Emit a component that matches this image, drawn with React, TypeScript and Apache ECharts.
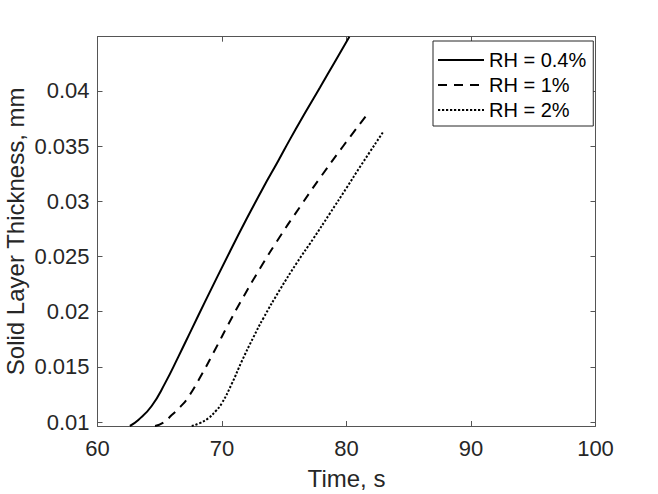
import React, { useEffect, useRef } from "react";
import * as echarts from "echarts";

const seriesNames = ["RH = 0.4%", "RH = 1%", "RH = 2%"];

const rh04: [number, number][] = [
  [62.6, 0.00964], [63.28, 0.01018], [64.35, 0.01145], [65.42, 0.0135],
  [66.49, 0.0159], [67.57, 0.01842], [68.63, 0.02088], [70.64, 0.02545],
  [72.0, 0.02845], [73.32, 0.03125], [74.5, 0.03362], [75.46, 0.0356],
  [76.7, 0.03805], [77.87, 0.0403], [79.0, 0.0425], [80.23, 0.0449],
];

const rh1: [number, number][] = [
  [64.62, 0.00964], [65.3, 0.00995], [65.96, 0.01063], [66.63, 0.01135],
  [67.29, 0.01225], [68.37, 0.0143], [69.44, 0.01655], [70.51, 0.01885],
  [71.45, 0.0208], [73.05, 0.0239], [74.66, 0.0268], [76.27, 0.0295],
  [77.74, 0.0319], [79.74, 0.035], [81.62, 0.0378],
];

const rh2: [number, number][] = [
  [67.57, 0.00964], [68.2, 0.0099], [68.9, 0.01034], [69.5, 0.011],
  [69.98, 0.01169], [70.78, 0.01345], [71.58, 0.01548], [72.51, 0.01765],
  [73.32, 0.0194], [74.66, 0.022], [76.0, 0.0244], [77.33, 0.0266],
  [78.67, 0.0289], [80.0, 0.0312], [81.08, 0.0331], [82.96, 0.0363],
];

const yTickValues = [0.01, 0.015, 0.02, 0.025, 0.03, 0.035, 0.04];
const xMin = 60;
const xMax = 100;
const xInterval = 10;
const yMin = 0.00964;
const yMax = 0.0449;

const FONT = "'Liberation Sans', Arial, Helvetica, sans-serif";
const AXIS_COLOR = "#555555";
const TEXT_COLOR = "#262626";

export default function App() {
  const ref = useRef<HTMLDivElement>(null);

  useEffect(() => {
    if (!ref.current) return;
    const chart = echarts.init(ref.current, undefined, { renderer: "svg" });

    const axisLine = { show: true, lineStyle: { color: AXIS_COLOR, width: 1 } };
    const tick = { show: true, inside: true, length: 5, lineStyle: { color: AXIS_COLOR, width: 1 } };

    const lineSeries = (name: string, data: [number, number][], type: any) => ({
      name,
      type: "line",
      data,
      symbol: "none",
      showSymbol: false,
      smooth: 0.5,
      clip: true,
      lineStyle: { color: "#000", width: 2, type },
      itemStyle: { color: "#000" },
    });

    chart.setOption({
      animation: false,
      backgroundColor: "#fff",
      textStyle: { fontFamily: FONT },
      grid: {
        left: 97.5,
        right: 62.5,
        top: 36.7,
        bottom: 68,
        containLabel: false,
        outerBoundsMode: "none",
      },
      legend: {
        orient: "vertical",
        left: 433,
        top: 41,
        padding: [9, 7, 6, 4],
        itemWidth: 46,
        itemHeight: 14,
        itemGap: 5,
        backgroundColor: "#fff",
        borderColor: "#262626",
        borderWidth: 1,
        itemStyle: { opacity: 0 },
        textStyle: { fontSize: 20, color: "#000", fontFamily: FONT },
        data: seriesNames,
      },
      xAxis: [
        {
          type: "value",
          min: xMin,
          max: xMax,
          interval: xInterval,
          position: "bottom",
          name: "Time, s",
          nameLocation: "middle",
          nameGap: 40,
          nameMoveOverlap: false,
          nameTextStyle: { fontSize: 24, color: TEXT_COLOR, fontFamily: FONT },
          axisLine,
          axisTick: tick,
          axisLabel: { fontSize: 22, color: TEXT_COLOR, margin: 11, fontFamily: FONT },
          splitLine: { show: false },
        },
        {
          type: "value",
          min: xMin,
          max: xMax,
          interval: xInterval,
          position: "top",
          axisLine,
          axisTick: tick,
          axisLabel: { show: false },
          splitLine: { show: false },
        },
      ],
      yAxis: [
        {
          type: "value",
          min: yMin,
          max: yMax,
          position: "left",
          name: "Solid Layer Thickness, mm",
          nameLocation: "middle",
          nameGap: 70,
          nameMoveOverlap: false,
          nameTextStyle: { fontSize: 24, color: TEXT_COLOR, fontFamily: FONT },
          axisLine,
          axisTick: { ...tick, customValues: yTickValues },
          axisLabel: {
            fontSize: 22,
            color: TEXT_COLOR,
            margin: 8,
            fontFamily: FONT,
            customValues: yTickValues,
          },
          splitLine: { show: false },
        },
        {
          type: "value",
          min: yMin,
          max: yMax,
          position: "right",
          axisLine,
          axisTick: { ...tick, customValues: yTickValues },
          axisLabel: { show: false, customValues: yTickValues },
          splitLine: { show: false },
        },
      ],
      series: [
        lineSeries(seriesNames[0], rh04, "solid"),
        lineSeries(seriesNames[1], rh1, [9, 7]),
        lineSeries(seriesNames[2], rh2, [2.2, 1.8]),
      ],
    });

    return () => chart.dispose();
  }, []);

  return (
    <div
      ref={ref}
      style={{ position: "absolute", left: 0, top: 0, width: 658, height: 494, background: "#fff" }}
    />
  );
}
